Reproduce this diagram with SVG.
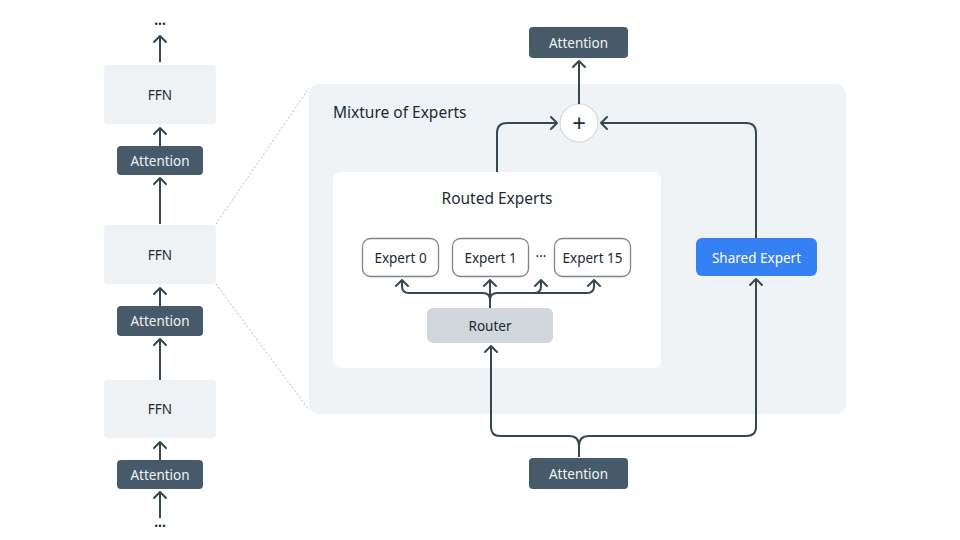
<svg xmlns="http://www.w3.org/2000/svg" width="960" height="540" viewBox="0 0 960 540">
<defs>
<style>
.t{font-family:"Noto Sans","Liberation Sans",sans-serif;font-size:13.5px;text-anchor:middle;dominant-baseline:central;fill:#1c2b33}
.tl{fill:#eef2f5}
.h{font-size:15.5px}
.ffn{fill:#eef2f5}
.att{fill:#465a69}
.exp{fill:#fff;stroke:#7b868f;stroke-width:1.3}
.ln{fill:none;stroke:#36474f;stroke-width:2;stroke-linejoin:round}
.dot{fill:none;stroke:#b5bcc2;stroke-width:1;stroke-dasharray:2 2}
</style>
<marker id="ah" viewBox="-8 -8 16 16" markerWidth="16" markerHeight="16" refX="0" refY="0" orient="auto" markerUnits="userSpaceOnUse">
<path d="M-6,-6 L0,0 L-6,6" fill="none" stroke="#36474f" stroke-width="2" stroke-linecap="round" stroke-linejoin="round"/>
</marker>
</defs>
<rect width="960" height="540" fill="#fff"/>

<g id="moe">
<rect x="309" y="84" width="537" height="330" rx="10" fill="#f0f3f6"/>
<text class="t h" x="333" y="112" style="text-anchor:start">Mixture of Experts</text>
</g>
<g id="routed">
<rect x="333" y="172" width="328" height="196" rx="8" fill="#fff"/>
<text class="t h" x="497" y="198">Routed Experts</text>
</g>
<line class="dot" x1="216" y1="224" x2="309" y2="88"/>
<line class="dot" x1="216" y1="284" x2="309" y2="410"/>

<g id="left-col">
<text class="t" x="160" y="20" style="font-weight:bold">...</text>
<g id="ffn1"><rect class="ffn" x="104" y="65" width="112" height="59" rx="4"/><text class="t" x="160" y="95">FFN</text></g>
<g id="att1"><rect class="att" x="117" y="146" width="86" height="29" rx="4"/><text class="t tl" x="160" y="161">Attention</text></g>
<g id="ffn2"><rect class="ffn" x="104" y="225" width="112" height="59" rx="4"/><text class="t" x="160" y="255">FFN</text></g>
<g id="att2"><rect class="att" x="117" y="306" width="86" height="30" rx="4"/><text class="t tl" x="160" y="321">Attention</text></g>
<g id="ffn3"><rect class="ffn" x="104" y="380" width="112" height="58" rx="4"/><text class="t" x="160" y="409">FFN</text></g>
<g id="att3"><rect class="att" x="117" y="460" width="86" height="29" rx="4"/><text class="t tl" x="160" y="475">Attention</text></g>
<text class="t" x="160" y="522" style="font-weight:bold">...</text>
</g>

<g id="att-top"><rect class="att" x="529" y="27" width="99" height="31" rx="4"/><text class="t tl" x="578.5" y="43">Attention</text></g>
<g id="att-bottom"><rect class="att" x="529" y="458" width="99" height="31" rx="4"/><text class="t tl" x="578.5" y="474">Attention</text></g>
<g id="sum"><circle cx="579" cy="123" r="19" fill="#fff" stroke="#d3d8dc" stroke-width="1.2"/><text class="t" x="579" y="122" style="font-size:24px">+</text></g>
<g id="expert0"><rect class="exp" x="362.5" y="238.5" width="76" height="38" rx="8"/><text class="t" x="400.5" y="258">Expert 0</text></g>
<g id="expert1"><rect class="exp" x="452.5" y="238.5" width="76" height="38" rx="8"/><text class="t" x="490.5" y="258">Expert 1</text></g>
<text class="t" x="541" y="256">···</text>
<g id="expert15"><rect class="exp" x="554.5" y="238.5" width="76" height="38" rx="8"/><text class="t" x="592.5" y="258">Expert 15</text></g>
<g id="router"><rect x="427" y="308" width="126" height="35" rx="6" fill="#d0d6dc"/><text class="t" x="490" y="326">Router</text></g>
<g id="shared"><rect x="696" y="238" width="121" height="38" rx="6" fill="#3580f3"/><text class="t" x="756.5" y="258" style="fill:#fff">Shared Expert</text></g>

<g id="connectors">
<path class="ln" d="M160,62 V36" marker-end="url(#ah)"/>
<path class="ln" d="M160,146 V128" marker-end="url(#ah)"/>
<path class="ln" d="M160,224 V178" marker-end="url(#ah)"/>
<path class="ln" d="M160,306 V288" marker-end="url(#ah)"/>
<path class="ln" d="M160,380 V339" marker-end="url(#ah)"/>
<path class="ln" d="M160,460 V442" marker-end="url(#ah)"/>
<path class="ln" d="M160,518 V492" marker-end="url(#ah)"/>

<path class="ln" d="M579,104 V61" marker-end="url(#ah)"/>
<path class="ln" d="M497,172 V133 Q497,123 507,123 H557" marker-end="url(#ah)"/>
<path class="ln" d="M756,238 V133 Q756,123 746,123 H601" marker-end="url(#ah)"/>

<path class="ln" d="M579,457 V446 Q579,436 569,436 H500 Q491,436 491,427 V346" marker-end="url(#ah)"/>
<path class="ln" d="M579,446 Q579,436 589,436 H746 Q756,436 756,427 V279" marker-end="url(#ah)"/>

<path class="ln" d="M490,308 V280" marker-end="url(#ah)"/>
<path class="ln" d="M490,300 Q490,293 483,293 H409 Q402,293 402,286 V280" marker-end="url(#ah)"/>
<path class="ln" d="M490,300 Q490,293 497,293 H587 Q594,293 594,286 V280" marker-end="url(#ah)"/>
<path class="ln" d="M534,293 Q541,293 541,286 V280" marker-end="url(#ah)"/>
</g>
</svg>
